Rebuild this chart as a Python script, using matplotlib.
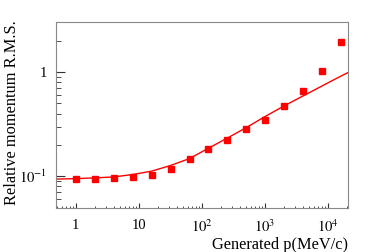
import matplotlib
matplotlib.use("Agg")
import matplotlib.pyplot as plt
from matplotlib.ticker import LogLocator, NullFormatter

# Data
p_gen = [1, 2, 4, 8, 16, 32, 64, 128, 256, 512, 1024, 2048, 4096, 8192, 16384]
rms = [0.095, 0.095, 0.0957, 0.099, 0.102, 0.118, 0.146, 0.184, 0.225, 0.284,
       0.344, 0.475, 0.662, 1.02, 1.96]

fit_p = [0.5, 1, 2, 4, 8, 16, 32, 64, 128, 256, 512, 1024, 2048, 4096, 8192, 16384, 21000]
fit_y = [0.094, 0.095, 0.0965, 0.0986, 0.104, 0.112, 0.127, 0.148, 0.186, 0.233,
         0.294, 0.376, 0.475, 0.592, 0.738, 0.918, 0.99]

xticks = [1, 10, 100, 1000, 10000]
xtick_labels = ["1", "10", r"$10^{2}$", r"$10^{3}$", r"$10^{4}$"]
yticks = [0.1, 1]
ytick_labels = [r"$10^{-1}$", "1"]

plt.rcParams['font.family'] = ['Liberation Serif', 'DejaVu Serif']
plt.rcParams['mathtext.fontset'] = 'stix'

fig = plt.figure(figsize=(3.74, 2.52), dpi=100)
ax = fig.add_axes([0.149, 0.176, 0.782, 0.735])

ax.plot(fit_p, fit_y, color='#ff0000', lw=1.0, zorder=2)
ax.plot(p_gen, rms, ls='none', marker='s', ms=3.8, color='#ff0000', zorder=3)

ax.set_xscale('log')
ax.set_yscale('log')
ax.set_xlim(0.48, 21200)
ax.set_ylim(0.05, 3.0)

ax.set_xticks(xticks)
ax.set_xticklabels(xtick_labels)
ax.set_yticks(yticks)
ax.set_yticklabels(ytick_labels)
ax.xaxis.set_minor_locator(LogLocator(base=10, subs=range(2, 10), numticks=20))
ax.yaxis.set_minor_locator(LogLocator(base=10, subs=range(2, 10), numticks=20))
ax.xaxis.set_minor_formatter(NullFormatter())
ax.yaxis.set_minor_formatter(NullFormatter())

ax.tick_params(which='both', direction='in', top=False, right=False,
               color='#333333', labelsize=10.5)
ax.tick_params(axis='x', which='major', length=3.3, width=0.8, pad=8)
ax.tick_params(axis='x', which='minor', length=1.7, width=0.6)
ax.tick_params(axis='y', which='major', length=6.5, width=0.8, pad=6)
ax.tick_params(axis='y', which='minor', length=3.6, width=0.6)

for s in ax.spines.values():
    s.set_color('#888888')
    s.set_linewidth(0.8)

ax.set_xlabel("Generated p(MeV/c)", fontsize=11.8, loc='right', labelpad=1)
fig.text(12.5 / 374, 1 - 20 / 252, "Relative momentum R.M.S.", rotation=90,
         ha='center', va='top', fontsize=11.8)

fig.savefig("out.png", dpi=100)
